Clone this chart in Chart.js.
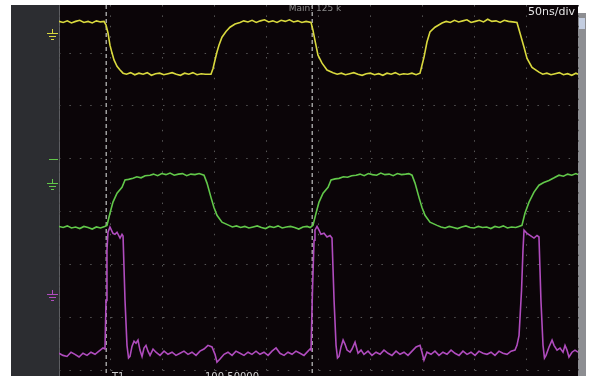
<!DOCTYPE html>
<html>
<head>
<meta charset="utf-8">
<style>
  html, body { margin: 0; padding: 0; background: #fff; overflow: hidden; }
  #wrap { width: 592px; height: 376px; }
</style>
<script src="https://cdn.jsdelivr.net/npm/chart.js@4.4.1/dist/chart.umd.min.js"></script>
</head>
<body>
<div id="wrap"><canvas id="scope" width="592" height="376"></canvas></div>
<script>
// time in ns (50 ns/div, 10 divs), amplitude in screen divisions above the lowest grid line
const xGrid = [0, 50, 100, 150, 200, 250, 300, 350, 400, 450, 500];
const yGrid = [0, 1, 2, 3, 4, 5, 6];
const yRange = [-0.11, 6.91];
const cursorTimes = [45.3, 243.7];

const yellowTime = [
  0, 4, 8, 12, 16, 20, 24, 28, 32, 36,
  40, 43.4, 45.3, 47.2, 49.1, 51.1, 53, 55.9, 58.8, 61.7,
  65, 69, 73, 77, 81, 85, 89, 93, 97, 101,
  105, 109, 113, 117, 121, 125, 129, 133, 137, 141,
  146.4, 148.4, 150.3, 152.2, 154.1, 157, 160.9, 164.7, 169.6, 174.4,
  178, 182, 186, 190, 194, 198, 202, 206, 210, 214,
  218, 222, 226, 230, 234, 238, 242.8, 244.7, 246.6, 249.5,
  253.4, 258.2, 264, 268, 272, 276, 280, 284, 288, 292,
  296, 300, 304, 308, 312, 316, 320, 324, 328, 332,
  336, 340, 344, 347.8, 349.7, 351.6, 354.5, 357.4, 362.2, 369,
  373, 377, 381, 385, 389, 393, 397, 401, 405, 409,
  413, 417, 421, 425, 429, 433, 437, 441.2, 444.1, 448,
  450.9, 455.7, 462.4, 466, 470, 474, 478, 482, 486, 490,
  494, 498, 500
];
const yellowVolts = [
  6.60, 6.58, 6.61, 6.57, 6.60, 6.62, 6.58, 6.60, 6.57, 6.61,
  6.59, 6.60, 6.53, 6.38, 6.15, 6.00, 5.87, 5.75, 5.68, 5.62,
  5.60, 5.63, 5.59, 5.62, 5.60, 5.63, 5.58, 5.61, 5.62, 5.59,
  5.61, 5.63, 5.60, 5.58, 5.62, 5.60, 5.63, 5.59, 5.61, 5.60,
  5.60, 5.71, 5.87, 6.02, 6.15, 6.30, 6.41, 6.49, 6.55, 6.58,
  6.61, 6.59, 6.62, 6.58, 6.61, 6.63, 6.59, 6.61, 6.58, 6.62,
  6.60, 6.63, 6.59, 6.61, 6.58, 6.60, 6.58, 6.43, 6.24, 5.96,
  5.81, 5.68, 5.63, 5.60, 5.62, 5.59, 5.61, 5.63, 5.60, 5.58,
  5.61, 5.62, 5.59, 5.61, 5.58, 5.62, 5.60, 5.63, 5.59, 5.61,
  5.60, 5.62, 5.59, 5.62, 5.77, 5.92, 6.21, 6.40, 6.49, 6.57,
  6.60, 6.58, 6.62, 6.59, 6.61, 6.63, 6.58, 6.60, 6.62, 6.59,
  6.64, 6.60, 6.61, 6.58, 6.62, 6.60, 6.59, 6.58, 6.38, 6.11,
  5.90, 5.73, 5.64, 5.60, 5.62, 5.59, 5.61, 5.63, 5.59, 5.61,
  5.58, 5.62, 5.60
];

const greenTime = [
  0, 4, 8, 12, 16, 20, 24, 28, 32, 36,
  40, 44, 46.2, 49.1, 52, 55.9, 60.7, 63.6, 67, 71.3,
  75, 79, 83, 87.7, 91, 95, 99, 103, 107, 111,
  115, 119, 123, 127, 131, 135, 139.7, 142.6, 146.4, 149.3,
  152.2, 157, 163.8, 167, 171, 175, 179, 183, 187, 191,
  195, 199, 203, 207, 211, 215, 219, 223, 227, 231,
  235, 239, 242, 244.7, 247.6, 250.5, 254.4, 259.2, 262.1, 266,
  269.8, 274, 278, 282, 286.2, 290, 294, 298, 302, 306,
  310, 314, 318, 322, 326, 330, 334, 337, 340.1, 343,
  346.8, 349.7, 352.6, 357.4, 364.2, 368, 372, 376, 380, 384,
  388, 392, 396, 400, 404, 408, 412, 416, 420, 424,
  428, 432, 436, 440, 443, 446, 448.9, 452.8, 457.6, 462.4,
  467, 472, 477, 481.7, 486, 490, 494, 498, 500
];
const greenVolts = [
  2.72, 2.70, 2.73, 2.69, 2.71, 2.68, 2.72, 2.70, 2.67, 2.71,
  2.69, 2.72, 2.74, 2.97, 3.18, 3.35, 3.46, 3.60, 3.61, 3.63,
  3.66, 3.64, 3.68, 3.69, 3.71, 3.68, 3.72, 3.70, 3.73, 3.69,
  3.71, 3.72, 3.68, 3.71, 3.70, 3.72, 3.69, 3.54, 3.27, 3.08,
  2.93, 2.80, 2.74, 2.71, 2.73, 2.70, 2.72, 2.69, 2.71, 2.73,
  2.70, 2.68, 2.72, 2.70, 2.73, 2.69, 2.71, 2.72, 2.70, 2.67,
  2.71, 2.72, 2.70, 2.74, 2.97, 3.18, 3.35, 3.46, 3.60, 3.62,
  3.63, 3.66, 3.65, 3.68, 3.69, 3.71, 3.68, 3.72, 3.70, 3.69,
  3.73, 3.70, 3.71, 3.68, 3.72, 3.70, 3.71, 3.72, 3.69, 3.54,
  3.27, 3.08, 2.93, 2.80, 2.74, 2.71, 2.69, 2.72, 2.70, 2.68,
  2.71, 2.73, 2.70, 2.69, 2.72, 2.70, 2.71, 2.68, 2.72, 2.70,
  2.73, 2.69, 2.71, 2.70, 2.72, 2.74, 2.97, 3.18, 3.37, 3.50,
  3.55, 3.59, 3.64, 3.69, 3.67, 3.71, 3.69, 3.72, 3.70
];

const purpleTime = [
  0, 3.9, 7.7, 11.6, 15.4, 19.3, 23.1, 27.0, 30.8, 34.7,
  38.5, 42.4, 44.3, 45.3, 46.2, 47.2, 49.1, 52.0, 53.9, 55.9,
  58.8, 60.7, 61.7, 63.6, 65.5, 67.0, 68.4, 70.3, 72.3, 74.2,
  76.1, 78.0, 80.0, 81.9, 83.8, 85.7, 87.7, 90.6, 93.4, 97.3,
  101.2, 105.0, 108.9, 112.7, 116.6, 120.4, 124.3, 128.1, 132.0, 135.8,
  139.7, 143.5, 147.4, 150.3, 152.2, 155.1, 159.0, 162.8, 166.7, 170.5,
  174.4, 178.2, 182.1, 185.9, 189.8, 193.6, 197.5, 201.4, 205.2, 209.1,
  212.9, 216.8, 220.6, 224.5, 228.3, 232.2, 236.0, 239.9, 241.8, 242.8,
  244.2, 245.7, 246.6, 248.6, 250.5, 252.4, 255.3, 258.2, 261.1, 263.0,
  265.0, 266.9, 268.3, 269.8, 271.7, 273.7, 275.6, 277.5, 280.4, 282.3,
  285.2, 288.1, 291.0, 293.8, 297.7, 301.5, 305.4, 309.3, 313.1, 317.0,
  320.8, 324.7, 328.5, 332.4, 336.2, 340.1, 344.0, 347.8, 349.7, 351.6,
  354.5, 358.4, 362.2, 366.1, 369.9, 373.8, 377.7, 381.5, 385.4, 389.2,
  393.1, 396.9, 400.8, 404.6, 408.5, 412.3, 416.2, 420.0, 423.9, 427.7,
  431.6, 435.5, 439.3, 441.2, 443.2, 445.6, 447.0, 448.0, 450.9, 453.8,
  457.6, 460.5, 462.4, 464.3, 466.3, 467.7, 469.2, 472.1, 475.0, 476.9,
  479.8, 482.7, 485.6, 487.5, 489.4, 491.3, 494.2, 497.1, 500.0
];
const purpleVolts = [
  0.32, 0.28, 0.26, 0.34, 0.30, 0.25, 0.32, 0.28, 0.34, 0.30,
  0.36, 0.42, 0.40, 1.32, 2.27, 2.61, 2.71, 2.59, 2.57, 2.61,
  2.50, 2.57, 2.54, 1.32, 0.47, 0.23, 0.26, 0.45, 0.55, 0.51,
  0.57, 0.38, 0.26, 0.42, 0.47, 0.36, 0.28, 0.40, 0.34, 0.28,
  0.36, 0.30, 0.34, 0.28, 0.32, 0.36, 0.30, 0.34, 0.28, 0.36,
  0.40, 0.47, 0.44, 0.30, 0.15, 0.21, 0.30, 0.34, 0.28, 0.36,
  0.32, 0.28, 0.34, 0.30, 0.36, 0.30, 0.34, 0.28, 0.36, 0.42,
  0.32, 0.28, 0.34, 0.30, 0.36, 0.32, 0.28, 0.36, 0.40, 0.38,
  1.51, 2.46, 2.65, 2.72, 2.65, 2.57, 2.59, 2.52, 2.55, 2.50,
  1.32, 0.47, 0.23, 0.26, 0.44, 0.57, 0.49, 0.38, 0.34, 0.40,
  0.53, 0.32, 0.38, 0.30, 0.36, 0.28, 0.34, 0.30, 0.38, 0.32,
  0.28, 0.36, 0.30, 0.34, 0.28, 0.36, 0.44, 0.47, 0.34, 0.19,
  0.34, 0.30, 0.36, 0.28, 0.34, 0.30, 0.38, 0.32, 0.28, 0.36,
  0.30, 0.34, 0.28, 0.36, 0.32, 0.30, 0.34, 0.28, 0.36, 0.32,
  0.30, 0.36, 0.38, 0.47, 0.66, 1.51, 2.27, 2.65, 2.59, 2.55,
  2.50, 2.55, 2.52, 1.32, 0.47, 0.23, 0.28, 0.44, 0.57, 0.47,
  0.38, 0.42, 0.34, 0.47, 0.38, 0.25, 0.34, 0.38, 0.34
];

// channel ground markers / level marker on the left strip (in divisions)
const groundLevels = [6.36, 3.52, 1.42];
const levelMarks = [3.99];

const YELLOW = '#d9d93e';
const GREEN = '#62c84a';
const PURPLE = '#b04cbe';

const toPoints = (t, v) => t.map((x, i) => ({ x, y: v[i] }));

function line(ctx, x1, y1, x2, y2) {
  ctx.beginPath();
  ctx.moveTo(x1, y1);
  ctx.lineTo(x2, y2);
  ctx.stroke();
}

function groundSymbol(ctx, cx, cy, color) {
  ctx.strokeStyle = color;
  ctx.lineWidth = 1;
  line(ctx, cx + 0.5, cy - 5, cx + 0.5, cy - 1);
  line(ctx, cx - 5, cy - 0.5, cx + 6, cy - 0.5);
  line(ctx, cx - 3, cy + 2.5, cx + 4, cy + 2.5);
  line(ctx, cx - 1, cy + 5.5, cx + 2, cy + 5.5);
}

const scopeFrame = {
  id: 'scopeFrame',
  beforeDraw(chart) {
    const { ctx, chartArea: a } = chart;
    ctx.save();
    ctx.fillStyle = '#ffffff';
    ctx.fillRect(0, 0, chart.width, chart.height);
    // left strip
    ctx.fillStyle = '#2c2d31';
    ctx.fillRect(11, a.top, a.left - 11, a.bottom - a.top);
    // screen
    ctx.fillStyle = '#0b0508';
    ctx.fillRect(a.left, a.top, a.right - a.left, a.bottom - a.top);
    // scrollbar
    ctx.fillStyle = '#8d8e92';
    ctx.fillRect(a.right, a.top + 8, 8, a.bottom - a.top - 8);
    ctx.fillStyle = '#c3cde0';
    ctx.fillRect(a.right + 1, a.top + 13, 6, 11);
    ctx.strokeStyle = '#5d5e62';
    ctx.lineWidth = 1;
    line(ctx, a.left + 0.5, a.top, a.left + 0.5, a.bottom);
    ctx.restore();
  },
  beforeDatasetsDraw(chart) {
    const { ctx, chartArea: a, scales } = chart;
    ctx.save();
    // cursors
    ctx.strokeStyle = '#9d9d9d';
    ctx.lineWidth = 1.5;
    ctx.setLineDash([4, 3]);
    cursorTimes.forEach(t => {
      const px = Math.round(scales.x.getPixelForValue(t)) + 0.25;
      line(ctx, px, a.top, px, a.bottom);
    });
    ctx.setLineDash([]);
    // markers on the strip
    const cx = a.left - 7;
    [YELLOW, GREEN, PURPLE].forEach((c, i) => {
      groundSymbol(ctx, cx, Math.round(scales.y.getPixelForValue(groundLevels[i])), c);
    });
    ctx.strokeStyle = GREEN;
    ctx.lineWidth = 1;
    levelMarks.forEach(v => {
      const py = Math.round(scales.y.getPixelForValue(v)) + 0.5;
      line(ctx, a.left - 10, py, a.left - 1, py);
    });
    ctx.restore();
  },
  afterDraw(chart) {
    const { ctx, chartArea: a } = chart;
    ctx.save();
    ctx.beginPath();
    ctx.rect(a.left, a.top, a.right - a.left, a.bottom - a.top);
    ctx.clip();
    ctx.textBaseline = 'alphabetic';
    ctx.font = '9px "DejaVu Sans"';
    ctx.fillStyle = '#8a8a8a';
    ctx.textAlign = 'center';
    ctx.fillText('Main: 125 k', 315, 11);
    ctx.font = '11px "DejaVu Sans"';
    ctx.fillStyle = '#e4e4e4';
    ctx.textAlign = 'right';
    ctx.fillText('50ns/div', a.right - 3, 15);
    ctx.textBaseline = 'top';
    ctx.textAlign = 'left';
    ctx.font = '10px "DejaVu Sans"';
    ctx.fillStyle = '#cfcfcf';
    ctx.fillText('T1', 112, 372);
    ctx.fillText('100.50000', 205, 372);
    ctx.restore();
  }
};

new Chart(document.getElementById('scope'), {
  type: 'line',
  data: {
    datasets: [
      { label: 'CH3', data: toPoints(purpleTime, purpleVolts), borderColor: PURPLE },
      { label: 'CH2', data: toPoints(greenTime, greenVolts), borderColor: GREEN },
      { label: 'CH1', data: toPoints(yellowTime, yellowVolts), borderColor: YELLOW }
    ]
  },
  options: {
    responsive: false,
    animation: false,
    devicePixelRatio: 1,
    layout: { padding: { left: 59, right: 14, top: 5, bottom: 0 } },
    elements: {
      point: { radius: 0 },
      line: { borderWidth: 1.6, tension: 0, fill: false }
    },
    plugins: { legend: { display: false }, tooltip: { enabled: false } },
    scales: {
      x: {
        type: 'linear',
        min: xGrid[0],
        max: xGrid[xGrid.length - 1],
        afterBuildTicks: axis => { axis.ticks = xGrid.map(value => ({ value })); },
        ticks: { display: false },
        grid: { color: '#555555', lineWidth: 1, drawTicks: false },
        border: { display: false, dash: [1.5, 8.9] }
      },
      y: {
        type: 'linear',
        min: yRange[0],
        max: yRange[1],
        afterBuildTicks: axis => { axis.ticks = yGrid.map(value => ({ value })); },
        ticks: { display: false },
        grid: { color: '#555555', lineWidth: 1, drawTicks: false },
        border: { display: false, dash: [1.5, 8.9] }
      }
    }
  },
  plugins: [scopeFrame]
});
</script>
</body>
</html>
